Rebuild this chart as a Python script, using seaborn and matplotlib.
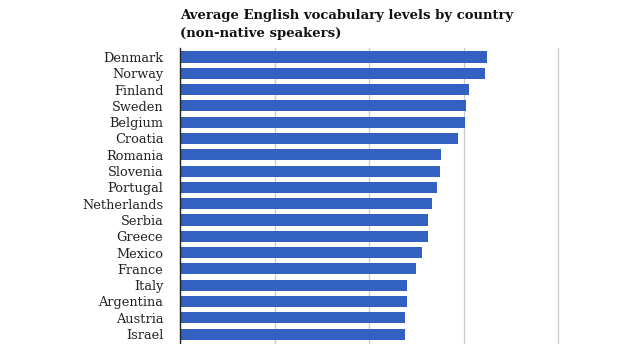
import matplotlib
matplotlib.use("Agg")
import matplotlib.pyplot as plt
import seaborn as sns
import pandas as pd

countries = ["Denmark", "Norway", "Finland", "Sweden", "Belgium", "Croatia",
             "Romania", "Slovenia", "Portugal", "Netherlands", "Serbia", "Greece",
             "Mexico", "France", "Italy", "Argentina", "Austria", "Israel"]
vocab = [6490, 6455, 6115, 6055, 6030, 5875,
         5515, 5495, 5435, 5325, 5240, 5240,
         5115, 4990, 4800, 4800, 4755, 4755]
title = "Average English vocabulary levels by country\n(non-native speakers)"

df = pd.DataFrame({"country": countries, "vocab": vocab})

sns.set_theme(style="white")
plt.rcParams["font.family"] = ["DejaVu Serif"]

fig = plt.figure(figsize=(6.21, 3.44), dpi=100)
ax = fig.add_axes([180 / 621, 0, 441 / 621, (344 - 48) / 344])

sns.barplot(data=df, x="vocab", y="country", orient="h", color="#3261c2",
            saturation=1, width=0.68, linewidth=0, ax=ax)

ax.set_xlim(0, 441 / 94.5 * 2000)
ax.set_ylim(17 + 0.61, -0.55)
ax.set_xticks([2000, 4000, 6000, 8000])
ax.xaxis.grid(True, color="#cccccc", linewidth=1)
ax.set_axisbelow(True)
ax.tick_params(axis="x", length=0, labelbottom=False)
ax.tick_params(axis="y", length=0, pad=12, labelsize=9.3, labelcolor="#222222")
for s in ["top", "right", "bottom"]:
    ax.spines[s].set_visible(False)
ax.spines["left"].set_color("#222222")
ax.spines["left"].set_linewidth(1)
ax.set_xlabel("")
ax.set_ylabel("")

fig.text(180 / 621, 1 - 9 / 344, title, ha="left", va="top", fontsize=9.5,
         fontweight="bold", color="#111111", linespacing=1.45)

fig.savefig("out.png", dpi=100)
